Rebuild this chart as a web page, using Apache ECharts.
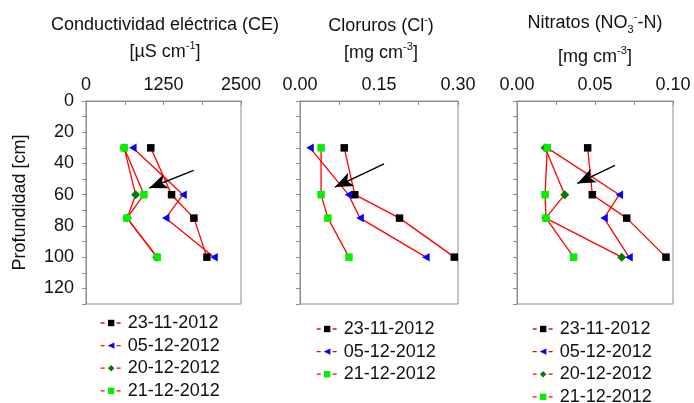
<!DOCTYPE html>
<html>
<head>
<meta charset="utf-8">
<script src="https://cdn.jsdelivr.net/npm/echarts@6/dist/echarts.min.js"></script>
<style>
  html, body { margin: 0; padding: 0; background: #fff; }
  #chart { width: 694px; height: 403px; }
</style>
</head>
<body>
<div id="chart"></div>
<script>
// Sampling depths (cm) and campaign dates
const depths = [30, 60, 75, 100];
const dates = ['23-11-2012', '05-12-2012', '20-12-2012', '21-12-2012'];

// Conductividad eléctrica [µS cm-1]
const ce_23nov = [1045, 1380, 1740, 1950];
const ce_05dic = [755, 1565, 1285, 2065];
const ce_20dic = [615, 800, 665, 1140];
const ce_21dic = [615, 935, 660, 1150];

// Cloruros [mg cm-3]
const cl_23nov = [0.084, 0.104, 0.189, 0.293];
const cl_05dic = [0.019, 0.092, 0.114, 0.239];
const cl_21dic = [0.040, 0.040, 0.053, 0.093];

// Nitratos NO3-N [mg cm-3]
const no3_23nov = [0.0453, 0.0483, 0.0703, 0.0955];
const no3_05dic = [0.0194, 0.0656, 0.0558, 0.0718];
const no3_20dic = [0.0180, 0.0306, 0.0184, 0.0671];
const no3_21dic = [0.0194, 0.0180, 0.0186, 0.0363];

// Annotation arrows: [value, depth] of tail and head
const arrowCE = [[1737, 44.4], [1021, 55.7]];
const arrowCl = [[0.1595, 40.2], [0.0665, 55.1]];
const arrowNO3 = [[0.0628, 41.3], [0.0387, 52.8]];

// Tick labels shown on each top axis and on the depth axis
const ceTicks = [0, 1250, 2500];
const clTicks = [0, 0.15, 0.30];
const no3Ticks = [0, 0.05, 0.10];
const depthTicks = [0, 20, 40, 60, 80, 100, 120];

const FONT = '"Liberation Sans", Arial, sans-serif';
const AXIS_GREY = '#8c8c8c';
const TEXT = '#111';

const markerStyle = {
  '23-11-2012': { symbol: 'rect', size: 7.5, color: '#000000', rotate: 0 },
  '05-12-2012': { symbol: 'triangle', size: [8.5, 7.5], color: '#0000ff', rotate: 90 },
  '20-12-2012': { symbol: 'diamond', size: 9, color: '#007d00', rotate: 0 },
  '21-12-2012': { symbol: 'rect', size: 7.5, color: '#00f000', rotate: 0 }
};

function profile(name, values, idx, arrow) {
  const m = markerStyle[name];
  const s = {
    type: 'line',
    name: name,
    xAxisIndex: idx,
    yAxisIndex: idx,
    data: values.map((v, i) => [v, depths[i]]),
    symbol: m.symbol,
    symbolSize: m.size,
    symbolRotate: m.rotate,
    itemStyle: { color: m.color },
    lineStyle: { color: '#ff0000', width: 1.3 },
    showSymbol: true,
    animation: false
  };
  if (arrow) {
    s.markLine = {
      silent: true,
      animation: false,
      symbol: ['none', 'arrow'],
      label: { show: false },
      lineStyle: { color: '#000', width: 1.4, type: 'solid' },
      emphasis: { disabled: true },
      data: [[
        { coord: arrow[0], symbol: 'none' },
        { coord: arrow[1], symbol: 'arrow', symbolSize: [11, 18] }
      ]]
    };
  }
  return s;
}

function near(v, list) {
  return list.some(t => Math.abs(t - v) < 1e-9);
}

function topAxis(idx, max, interval, ticks, digits) {
  return {
    type: 'value',
    gridIndex: idx,
    position: 'top',
    min: 0,
    max: max,
    interval: interval,
    axisLine: { show: true, lineStyle: { color: AXIS_GREY } },
    axisTick: { show: true, inside: true, length: 4, lineStyle: { color: AXIS_GREY } },
    splitLine: { show: false },
    axisLabel: {
      show: true,
      margin: 7,
      fontSize: 18,
      fontFamily: FONT,
      color: TEXT,
      showMinLabel: true,
      showMaxLabel: true,
      formatter: v => near(v, ticks) ? v.toFixed(digits) : ''
    }
  };
}

function depthAxis(idx, labels) {
  const ax = {
    type: 'value',
    gridIndex: idx,
    inverse: true,
    min: 0,
    max: 130,
    interval: 10,
    axisLine: { show: true, lineStyle: { color: AXIS_GREY } },
    axisTick: { show: true, length: 4, lineStyle: { color: AXIS_GREY } },
    splitLine: { show: false },
    axisLabel: {
      show: labels,
      margin: 12,
      fontSize: 18,
      fontFamily: FONT,
      color: TEXT,
      formatter: v => near(v, depthTicks) ? String(v) : ''
    }
  };
  if (labels) {
    ax.name = 'Profundidad [cm]';
    ax.nameLocation = 'middle';
    ax.nameGap = 57;
    ax.nameTextStyle = { fontSize: 18, fontFamily: FONT, color: TEXT };
  }
  return ax;
}

const titleRich = {
  sup: { fontSize: 11, fontFamily: FONT, color: TEXT, verticalAlign: 'top', lineHeight: 10 },
  sub: { fontSize: 11, fontFamily: FONT, color: TEXT, verticalAlign: 'bottom', lineHeight: 10 }
};
function titleLine(text, cx, top) {
  return {
    text: text,
    left: cx,
    top: top,
    textAlign: 'center',
    padding: 0,
    textStyle: {
      fontSize: 18, fontWeight: 'normal', fontFamily: FONT, color: TEXT,
      lineHeight: 24, rich: titleRich
    }
  };
}

function legendFor(names, left, top) {
  return {
    data: names,
    orient: 'vertical',
    left: left,
    top: top,
    height: 110,
    padding: 0,
    itemWidth: 21,
    itemHeight: 8,
    itemGap: 4.6,
    selectedMode: false,
    lineStyle: { type: [4, 4], width: 1.3 },
    textStyle: { fontSize: 18, fontFamily: FONT, color: TEXT, lineHeight: 18, padding: [0, 0, 0, 1] }
  };
}

const option = {
  backgroundColor: '#ffffff',
  animation: false,
  title: [
    titleLine('Conductividad eléctrica (CE)', 165, 13),
    titleLine('[µS cm{sup|-1}]', 165, 40),
    titleLine('Cloruros (Cl{sup|-})', 381, 14),
    titleLine('[mg cm{sup|-3}]', 381, 41),
    titleLine('Nitratos (NO{sub|3}{sup|-}-N)', 595, 11),
    titleLine('[mg cm{sup|-3}]', 595, 45)
  ],
  grid: [
    { left: 86, top: 101, width: 155, height: 203, show: true, borderColor: AXIS_GREY, borderWidth: 1 },
    { left: 300, top: 101, width: 158, height: 203, show: true, borderColor: AXIS_GREY, borderWidth: 1 },
    { left: 517, top: 101, width: 156, height: 203, show: true, borderColor: AXIS_GREY, borderWidth: 1 }
  ],
  xAxis: [
    topAxis(0, 2500, 625, ceTicks, 0),
    topAxis(1, 0.30, 0.075, clTicks, 2),
    topAxis(2, 0.10, 0.025, no3Ticks, 2)
  ],
  yAxis: [depthAxis(0, true), depthAxis(1, false), depthAxis(2, false)],
  legend: [
    legendFor(dates, 100, 314),
    legendFor([dates[0], dates[1], dates[3]], 316, 320),
    legendFor(dates, 532, 320)
  ],
  series: [
    profile(dates[0], ce_23nov, 0, arrowCE),
    profile(dates[1], ce_05dic, 0),
    profile(dates[2], ce_20dic, 0),
    profile(dates[3], ce_21dic, 0),

    profile(dates[0], cl_23nov, 1, arrowCl),
    profile(dates[1], cl_05dic, 1),
    profile(dates[3], cl_21dic, 1),

    profile(dates[0], no3_23nov, 2, arrowNO3),
    profile(dates[1], no3_05dic, 2),
    profile(dates[2], no3_20dic, 2),
    profile(dates[3], no3_21dic, 2)
  ]
};

const chart = echarts.init(document.getElementById('chart'), null, { renderer: 'canvas' });
chart.setOption(option);
</script>
</body>
</html>
